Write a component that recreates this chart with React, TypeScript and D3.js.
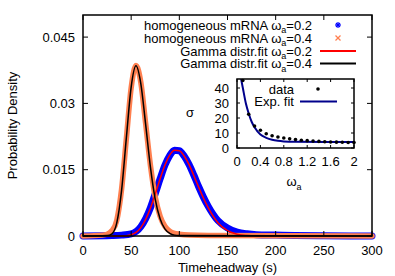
import React from 'react';
import * as d3 from 'd3';

// main panel: time headway (s) vs probability density
const xTicks = [0, 50, 100, 150, 200, 250, 300];
const yTicks = [0, 0.015, 0.03, 0.045];
const yTickLabels = ['0', '0.015', '0.03', '0.045'];

// homogeneous mRNA, omega_a = 0.2 (blue data)
const data02T = [0, 30, 40, 50, 60, 70, 75, 80, 85, 90, 95, 100, 105, 110, 115, 120, 125, 130, 140, 150, 160, 170, 180, 200, 220, 250, 300];
const data02 = [0, 0.0001, 0.0002, 0.0005, 0.0021, 0.0064, 0.0096, 0.0129, 0.0160, 0.0182, 0.0194, 0.0193, 0.0181, 0.0162, 0.0138, 0.0112, 0.0088, 0.0067, 0.0035, 0.0018, 0.0009, 0.0005, 0.0003, 0.0002, 0.0001, 0.00005, 0];

// homogeneous mRNA, omega_a = 0.4 (orange data)
const data04T = [0, 20, 25, 30, 35, 40, 45, 50, 55, 60, 65, 70, 75, 80, 85, 90, 95, 100, 110, 130, 300];
const data04 = [0, 0.0002, 0.0004, 0.0012, 0.0035, 0.0105, 0.0220, 0.0335, 0.0386, 0.0348, 0.0255, 0.0160, 0.0088, 0.0045, 0.0022, 0.0011, 0.0006, 0.0004, 0.0002, 0.0001, 0];

// Gamma distribution fits
const fit02T = [0, 40, 50, 60, 70, 75, 80, 85, 90, 95, 100, 105, 110, 115, 120, 125, 130, 140, 150, 160, 170, 180, 300];
const fit02 = [0, 0, 0.0003, 0.0019, 0.0063, 0.0095, 0.0129, 0.0160, 0.0183, 0.0194, 0.0193, 0.0181, 0.0162, 0.0137, 0.0111, 0.0086, 0.0064, 0.0030, 0.0012, 0.0004, 0.0001, 0, 0];
const fit04T = [0, 25, 30, 35, 40, 45, 50, 55, 60, 65, 70, 75, 80, 85, 90, 95, 100, 300];
const fit04 = [0, 0.0001, 0.0005, 0.0029, 0.0102, 0.0222, 0.0337, 0.0385, 0.0345, 0.0253, 0.0156, 0.0083, 0.0039, 0.0016, 0.0006, 0.0002, 0.0001, 0];

// inset: sigma vs omega_a
const insetOmega = [0.1, 0.2, 0.3, 0.4, 0.5, 0.6, 0.7, 0.8, 0.9, 1.0, 1.1, 1.2, 1.3, 1.4, 1.5, 1.6, 1.7, 1.8, 1.9, 2.0];
const insetSigma = [45, 22.5, 14.7, 11.8, 9.5, 8.2, 7.3, 6.7, 6.1, 5.6, 5.2, 4.9, 4.6, 4.4, 4.2, 4.0, 3.9, 3.8, 3.7, 3.6];
const insetFitOmega = [0.07, 0.1, 0.15, 0.2, 0.25, 0.3, 0.4, 0.5, 0.6, 0.7, 0.8, 1.0, 1.5, 2.0];
const insetFitSigma = [46, 40, 30, 23, 17.5, 13.8, 9, 6.8, 5.5, 4.8, 4.4, 4.1, 4.0, 4.0];
const insetXTicks = [0, 0.4, 0.8, 1.2, 1.6, 2];
const insetYTicks = [0, 10, 20, 30, 40];

const font = '"Liberation Sans", Arial, sans-serif';

function Sub({ text, sub, rest }: { text: string; sub: string; rest?: string }) {
  return (
    <>
      {text}
      <tspan fontSize={9} dy={3.5}>{sub}</tspan>
      <tspan dy={-3.5}>{rest ?? ''}</tspan>
    </>
  );
}

export default function App() {
  const width = 395;
  const height = 276;
  const left = 83, right = 372, top = 15, bottom = 236;

  const x = d3.scaleLinear().domain([0, 300]).range([left, right]);
  const y = d3.scaleLinear().domain([0, 0.05]).range([bottom, top]);

  const line = (ts: number[], vs: number[]) =>
    d3.line<number>()
      .x((_, i) => x(ts[i]))
      .y(d => y(d))
      .curve(d3.curveMonotoneX)(vs) as string;

  const ix = d3.scaleLinear().domain([0, 2]).range([237, 354]);
  const iy = d3.scaleLinear().domain([0, 46]).range([148, 79]);
  const insetLine = d3.line<number>()
    .x((_, i) => ix(insetFitOmega[i]))
    .y(d => iy(d))
    .curve(d3.curveMonotoneX)(insetFitSigma) as string;

  const tl = 5; // tick length
  const itl = 3;

  return (
    <svg width={width} height={height} style={{ position: 'absolute', left: 0, top: 0, background: '#fff' }}
      fontFamily={font} fontSize={13}>
      <defs>
        <clipPath id="insetClip">
          <rect x={ix(0)} y={iy(46)} width={ix(2) - ix(0)} height={iy(0) - iy(46)} />
        </clipPath>
      </defs>

      {/* data bands */}
      <path d={line(data02T, data02)} fill="none" stroke="#0000ff" strokeWidth={7} strokeLinejoin="round" strokeLinecap="round" />
      <path d={line(data04T, data04)} fill="none" stroke="#ff8050" strokeWidth={5.5} strokeLinejoin="round" strokeLinecap="round" />
      {/* fits */}
      <path d={line(fit02T, fit02)} fill="none" stroke="#ff0000" strokeWidth={1.5} />
      <path d={line(fit04T, fit04)} fill="none" stroke="#000" strokeWidth={1.5} />

      {/* frame */}
      <rect x={left} y={top} width={right - left} height={bottom - top} fill="none" stroke="#000" strokeWidth={1.5} />

      {xTicks.map(t => (
        <g key={`x${t}`}>
          <line x1={x(t)} x2={x(t)} y1={bottom} y2={bottom - tl} stroke="#000" />
          <line x1={x(t)} x2={x(t)} y1={top} y2={top + tl} stroke="#000" />
          <text x={x(t)} y={255} textAnchor="middle">{t}</text>
        </g>
      ))}
      {yTicks.map((t, i) => (
        <g key={`y${t}`}>
          <line x1={left} x2={left + tl} y1={y(t)} y2={y(t)} stroke="#000" />
          <line x1={right} x2={right - tl} y1={y(t)} y2={y(t)} stroke="#000" />
          <text x={75} y={y(t) + 4.5} textAnchor="end">{yTickLabels[i]}</text>
        </g>
      ))}

      <text transform={`translate(17,${(top + bottom) / 2}) rotate(-90)`} textAnchor="middle">Probability Density</text>
      <text x={(left + right) / 2} y={272} textAnchor="middle">Timeheadway (s)</text>

      {/* legend */}
      <g>
        <text x={312} y={29.5} textAnchor="end"><Sub text="homogeneous mRNA ω" sub="a" rest="=0.2" /></text>
        <g stroke="#0000ff" strokeWidth={1.2}>
          <line x1={335} x2={341} y1={25} y2={25} />
          <line x1={338} x2={338} y1={22} y2={28} />
          <line x1={336} x2={340} y1={23} y2={27} />
          <line x1={336} x2={340} y1={27} y2={23} />
        </g>
        <text x={312} y={42.5} textAnchor="end"><Sub text="homogeneous mRNA ω" sub="a" rest="=0.4" /></text>
        <g stroke="#ff8050" strokeWidth={1.2}>
          <line x1={335.5} x2={340.5} y1={35.5} y2={40.5} />
          <line x1={335.5} x2={340.5} y1={40.5} y2={35.5} />
        </g>
        <text x={312} y={55.5} textAnchor="end"><Sub text="Gamma distr.fit ω" sub="a" rest="=0.2" /></text>
        <line x1={320} x2={356} y1={51} y2={51} stroke="#ff0000" strokeWidth={2} />
        <text x={312} y={68} textAnchor="end"><Sub text="Gamma distr.fit ω" sub="a" rest="=0.4" /></text>
        <line x1={320} x2={356} y1={63.5} y2={63.5} stroke="#000" strokeWidth={2} />
      </g>

      {/* inset */}
      <rect x={ix(0)} y={iy(46)} width={ix(2) - ix(0)} height={iy(0) - iy(46)} fill="#fff" />
      <path d={insetLine} fill="none" stroke="#00008b" strokeWidth={2} clipPath="url(#insetClip)" />
      {insetOmega.map((o, i) => (
        <circle key={`d${i}`} cx={ix(o)} cy={iy(insetSigma[i])} r={1.8} fill="#000" />
      ))}
      <rect x={ix(0)} y={iy(46)} width={ix(2) - ix(0)} height={iy(0) - iy(46)} fill="none" stroke="#000" strokeWidth={1.5} />
      {insetXTicks.map(t => (
        <g key={`ix${t}`}>
          <line x1={ix(t)} x2={ix(t)} y1={iy(0)} y2={iy(0) - itl} stroke="#000" />
          <line x1={ix(t)} x2={ix(t)} y1={iy(46)} y2={iy(46) + itl} stroke="#000" />
          <text x={ix(t)} y={166} textAnchor="middle">{t}</text>
        </g>
      ))}
      {insetYTicks.map(t => (
        <g key={`iy${t}`}>
          <line x1={ix(0)} x2={ix(0) + itl} y1={iy(t)} y2={iy(t)} stroke="#000" />
          <line x1={ix(2)} x2={ix(2) - itl} y1={iy(t)} y2={iy(t)} stroke="#000" />
          <text x={229} y={iy(t) + 4.5} textAnchor="end">{t}</text>
        </g>
      ))}
      <text x={190} y={117} textAnchor="middle">σ</text>
      <text x={294} y={186} textAnchor="middle"><Sub text="ω" sub="a" /></text>

      <text x={294} y={93.5} textAnchor="end">data</text>
      <circle cx={318} cy={89} r={1.8} fill="#000" />
      <text x={294} y={106} textAnchor="end">Exp. fit</text>
      <line x1={300} x2={337} y1={101.5} y2={101.5} stroke="#00008b" strokeWidth={2} />
    </svg>
  );
}
